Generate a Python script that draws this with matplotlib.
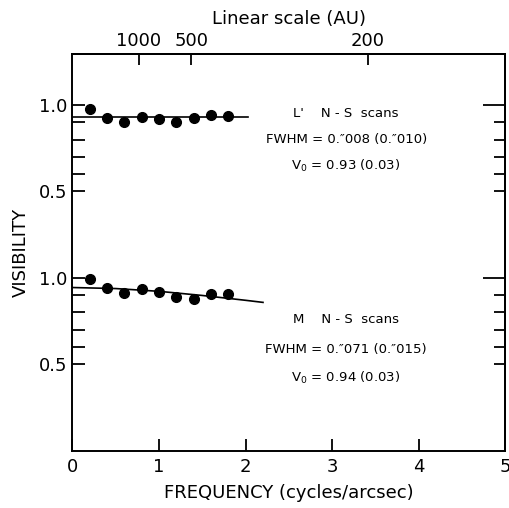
"""
Visibility vs spatial frequency for L' and M N-S scans,
with Gaussian fits and a linear scale (AU) on the top axis.
"""
import matplotlib
matplotlib.use("Agg")
import matplotlib.pyplot as plt

# spatial frequency of the scan points (cycles/arcsec)
freq = [0.2, 0.4, 0.6, 0.8, 1.0, 1.2, 1.4, 1.6, 1.8]

# L' N-S scans (upper panel)
vis_lp = [0.975, 0.927, 0.900, 0.932, 0.921, 0.900, 0.923, 0.940, 0.936]
fit_lp_freq = [0.0, 2.03]
fit_lp_vis = [0.93, 0.93]

# M N-S scans (lower panel)
vis_m = [0.991, 0.944, 0.913, 0.933, 0.921, 0.890, 0.878, 0.904, 0.907]
fit_m_freq = [0.0, 0.5, 1.0, 1.5, 2.0, 2.2]
fit_m_vis = [0.944, 0.938, 0.922, 0.898, 0.870, 0.858]

# upper panel is drawn shifted up by one visibility unit
panel_offset = 1.0

# top axis: linear scale (AU)
au_tick_freq = [0.765, 1.37, 3.41]
au_tick_labels = ["1000", "500", "200"]

x_ticks = [0, 1, 2, 3, 4, 5]
y_major = [0.5, 1.0, 1.5, 2.0]
y_major_labels = ["0.5", "1.0", "0.5", "1.0"]
y_minor = [0.6, 0.7, 0.8, 0.9, 1.6, 1.7, 1.8, 1.9]

plt.rcParams["font.family"] = ["DejaVu Sans"]

fig = plt.figure(figsize=(5.09, 5.08), dpi=100)
ax = fig.add_axes([0.1424, 0.1128, 0.8507, 0.7809])

ax.plot(fit_lp_freq, [v + panel_offset for v in fit_lp_vis], color="black", lw=1.2)
ax.plot(freq, [v + panel_offset for v in vis_lp], "o", color="black", ms=7)
ax.plot(fit_m_freq, fit_m_vis, color="black", lw=1.2)
ax.plot(freq, vis_m, "o", color="black", ms=7)

ax.set_xlim(0, 5)
ax.set_ylim(0, 2.295)

for s in ax.spines.values():
    s.set_linewidth(1.4)

ax.set_xticks(x_ticks)
ax.set_xticklabels([str(t) for t in x_ticks])
ax.tick_params(axis="x", direction="in", length=8.5, width=1.3,
               labelsize=13, pad=5)
ax.set_yticks(y_major)
ax.set_yticklabels(y_major_labels)
ax.set_yticks(y_minor, minor=True)
ax.tick_params(axis="y", which="both", direction="in", length=9.5, width=1.3,
               labelsize=13, pad=4)

# right side ticks
axr = ax.secondary_yaxis("right")
axr.set_yticks([1.0, 2.0])
axr.set_yticks(y_minor + [0.5, 1.5], minor=True)
axr.tick_params(which="major", direction="in", length=16, width=1.3,
                labelright=False)
axr.tick_params(which="minor", direction="in", length=8, width=1.3)
axr.spines["right"].set_linewidth(1.4)

# top axis: linear scale
axt = ax.secondary_xaxis("top")
axt.set_xticks(au_tick_freq)
axt.set_xticklabels(au_tick_labels)
axt.tick_params(direction="in", length=8, width=1.3, labelsize=13, pad=3)
axt.spines["top"].set_linewidth(1.4)
axt.set_xlabel("Linear scale (AU)", fontsize=13, labelpad=6)

ax.set_xlabel("FREQUENCY (cycles/arcsec)", fontsize=13, labelpad=6)
ax.set_ylabel("VISIBILITY", fontsize=13, labelpad=6)

# annotations
ann = dict(fontsize=9.5, ha="center", va="center", transform=ax.transData)
ax.text(3.16, 2.0 - 0.05, "L'    N - S  scans", **ann)
ax.text(3.16, 1.80, "FWHM = 0.″008 (0.″010)", **ann)
ax.text(3.16, 1.645, "V$_0$ = 0.93 (0.03)", **ann)
ax.text(3.16, 0.76, "M    N - S  scans", **ann)
ax.text(3.16, 0.585, "FWHM = 0.″071 (0.″015)", **ann)
ax.text(3.16, 0.42, "V$_0$ = 0.94 (0.03)", **ann)

fig.savefig("out.png", dpi=100)
